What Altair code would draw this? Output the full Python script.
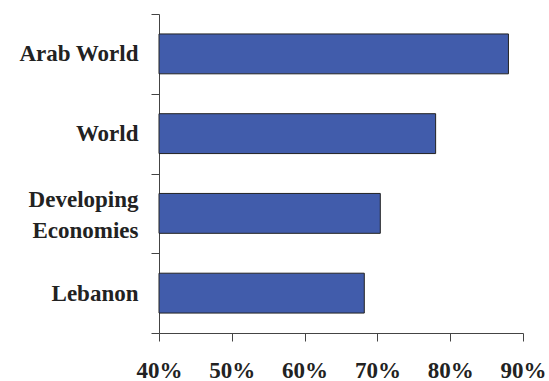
import altair as alt
import pandas as pd

categories = ["Arab World", "World", "Developing Economies", "Lebanon"]
values = [0.88, 0.78, 0.704, 0.682]
x_ticks = [0.4, 0.5, 0.6, 0.7, 0.8, 0.9]

df = pd.DataFrame({"cat": categories, "val": values})

FONT = "Liberation Serif"

chart = alt.Chart(df).mark_bar(
    color="#415CAB", stroke="#222222", strokeWidth=1,
    height={"band": 0.5}
).encode(
    x=alt.X("val:Q",
            scale=alt.Scale(domain=[0.4, 0.9], nice=False, zero=False, clamp=True),
            axis=alt.Axis(values=x_ticks, format=".0%", title=None, grid=False,
                          labelFont=FONT, labelFontSize=23, labelFontWeight="bold",
                          labelColor="#222222", tickSize=8, tickColor="#444444",
                          domainColor="#444444", labelPadding=18, labelFlush=False)),
    y=alt.Y("cat:N", sort=categories,
            scale=alt.Scale(paddingInner=0, paddingOuter=0),
            axis=alt.Axis(title=None, labelFont=FONT, labelFontSize=23,
                          labelFontWeight="bold", labelColor="#222222",
                          tickBand="extent", tickSize=8, tickColor="#444444",
                          domainColor="#444444", labelPadding=13,
                          labelLineHeight=31,
                          labelOffset={"condition": {"test": "datum.label == 'Developing Economies'", "value": -14}, "value": 0},
                          labelExpr="datum.label == 'Developing Economies' ? ['Developing', 'Economies'] : datum.label")),
).properties(
    width=364, height=319,
    autosize=alt.AutoSizeParams(type="none"),
    padding={"left": 159, "top": 14, "right": 26, "bottom": 48},
).configure(background="white").configure_view(stroke=None)

chart.save("out.html", embed_options={"renderer": "svg", "actions": False})
